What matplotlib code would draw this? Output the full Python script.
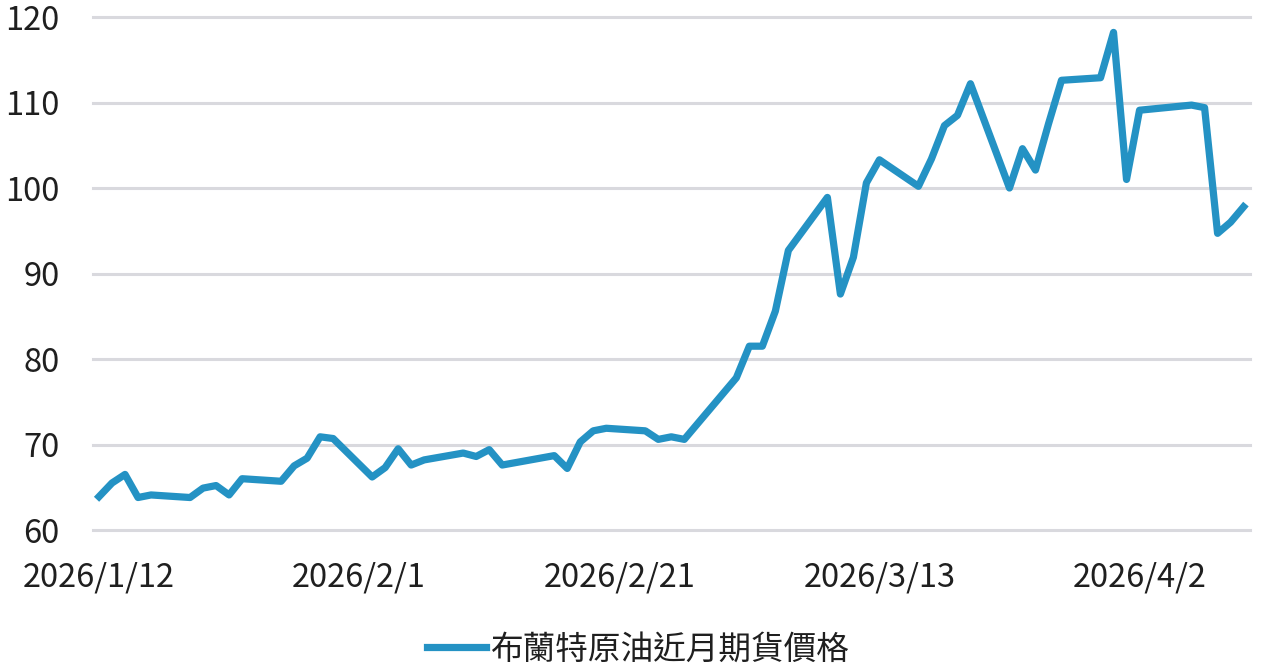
import datetime as dt
import matplotlib
matplotlib.use("Agg")
import matplotlib.pyplot as plt
import matplotlib.dates as mdates
from matplotlib.ticker import FuncFormatter

plt.rcParams['font.family'] = ['Noto Sans CJK TC', 'DejaVu Sans']

# Brent front-month prices
dates = ["2026-01-12", "2026-01-13", "2026-01-14", "2026-01-15", "2026-01-16",
         "2026-01-19", "2026-01-20", "2026-01-21", "2026-01-22", "2026-01-23",
         "2026-01-26", "2026-01-27", "2026-01-28", "2026-01-29", "2026-01-30",
         "2026-02-02", "2026-02-03", "2026-02-04", "2026-02-05", "2026-02-06",
         "2026-02-09", "2026-02-10", "2026-02-11", "2026-02-12",
         "2026-02-16", "2026-02-17", "2026-02-18", "2026-02-19", "2026-02-20",
         "2026-02-23", "2026-02-24", "2026-02-25", "2026-02-26", "2026-02-27",
         "2026-03-02", "2026-03-03", "2026-03-04", "2026-03-05", "2026-03-06",
         "2026-03-09", "2026-03-10", "2026-03-11", "2026-03-12", "2026-03-13",
         "2026-03-16", "2026-03-17", "2026-03-18", "2026-03-19", "2026-03-20",
         "2026-03-23", "2026-03-24", "2026-03-25", "2026-03-26", "2026-03-27",
         "2026-03-30", "2026-03-31", "2026-04-01", "2026-04-02",
         "2026-04-06", "2026-04-07", "2026-04-08", "2026-04-09", "2026-04-10"]
prices = [63.9, 65.5, 66.5, 63.8, 64.1,
          63.8, 64.9, 65.2, 64.1, 66.0,
          65.7, 67.5, 68.4, 70.9, 70.7,
          66.2, 67.3, 69.5, 67.6, 68.2,
          69.0, 68.6, 69.4, 67.6,
          68.7, 67.2, 70.3, 71.6, 71.9,
          71.6, 70.6, 70.9, 70.6, 72.4,
          77.8, 81.5, 81.5, 85.6, 92.7,
          98.9, 87.6, 91.9, 100.6, 103.3,
          100.2, 103.4, 107.3, 108.5, 112.2,
          100.0, 104.6, 102.1, 107.5, 112.6,
          112.9, 118.2, 101.0, 109.1,
          109.7, 109.4, 94.7, 96.0, 97.8]
tick_dates = ["2026-01-12", "2026-02-01", "2026-02-21", "2026-03-13", "2026-04-02"]
y_ticks = [60, 70, 80, 90, 100, 110, 120]
series_name = "布蘭特原油近月期貨價格"

x = [dt.datetime.strptime(d, "%Y-%m-%d") for d in dates]
xt = [dt.datetime.strptime(d, "%Y-%m-%d") for d in tick_dates]

fig = plt.figure(figsize=(12.64, 6.65), dpi=100)
ax = fig.add_axes([0.0736, 0.203, 0.9154, 0.7714])

ax.plot(x, prices, color='#2492c4', lw=5.2, solid_joinstyle='round',
        label=series_name, zorder=3)

ax.set_ylim(60, 120)
ax.set_yticks(y_ticks)
ax.set_xlim(x[0] - dt.timedelta(days=0.46), x[-1] + dt.timedelta(days=0.5))
ax.set_xticks(xt)
ax.xaxis.set_major_formatter(FuncFormatter(
    lambda v, p: "{0.year}/{0.month}/{0.day}".format(mdates.num2date(v))))

ax.grid(axis='y', color='#d9d9de', lw=2.2, zorder=0)
for gl in ax.get_ygridlines():
    gl.set_clip_on(False)
for s in ax.spines.values():
    s.set_visible(False)
ax.tick_params(axis='both', length=0, labelsize=23.5, labelcolor='#1f1f1f')
ax.tick_params(axis='x', pad=23)
ax.tick_params(axis='y', pad=24)

fig.legend(loc='lower center', bbox_to_anchor=(0.505, -0.045), frameon=False,
           fontsize=23.5, handlelength=1.8, handletextpad=0.15,
           labelcolor='#1f1f1f')

fig.savefig("out.png", dpi=100)
